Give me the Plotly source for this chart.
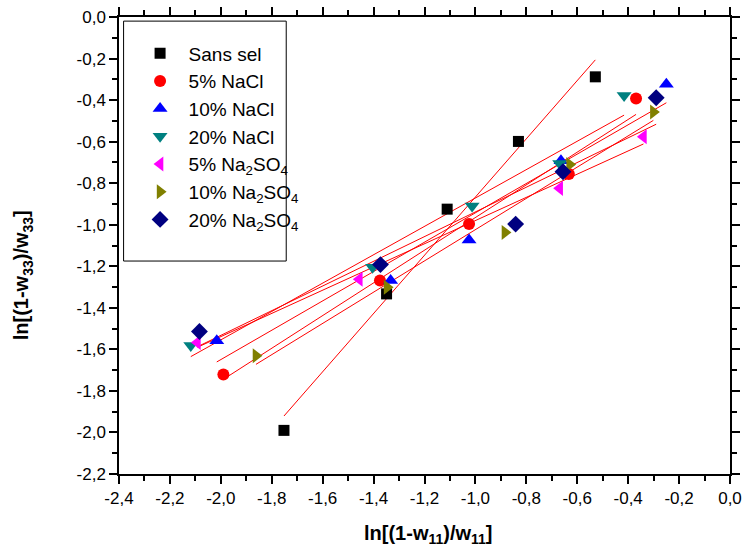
import numpy as np
import plotly.graph_objects as go

# ---- data ----
names = ["Sans sel", "5% NaCl", "10% NaCl", "20% NaCl",
         "5% Na<sub>2</sub>SO<sub>4</sub>", "10% Na<sub>2</sub>SO<sub>4</sub>",
         "20% Na<sub>2</sub>SO<sub>4</sub>"]

x_sans = [-1.752, -1.349, -1.111, -0.831, -0.529]
y_sans = [-1.990, -1.333, -0.925, -0.599, -0.288]

x_nacl5 = [-1.990, -1.375, -1.025, -0.633, -0.369]
y_nacl5 = [-1.721, -1.269, -0.997, -0.756, -0.392]

x_nacl10 = [-2.016, -1.333, -1.025, -0.664, -0.250]
y_nacl10 = [-1.558, -1.269, -1.074, -0.692, -0.324]

x_nacl20 = [-2.118, -1.404, -1.013, -0.669, -0.416]
y_nacl20 = [-1.582, -1.205, -0.910, -0.705, -0.378]

x_na2so4_5 = [-2.092, -1.456, -0.669, -0.340]
y_na2so4_5 = [-1.567, -1.262, -0.825, -0.577]

x_na2so4_10 = [-1.862, -1.347, -0.884, -0.630, -0.301]
y_na2so4_10 = [-1.631, -1.301, -1.037, -0.710, -0.457]

x_na2so4_20 = [-2.084, -1.373, -0.842, -0.656, -0.290]
y_na2so4_20 = [-1.514, -1.192, -0.997, -0.745, -0.389]

xs = [x_sans, x_nacl5, x_nacl10, x_nacl20, x_na2so4_5, x_na2so4_10, x_na2so4_20]
ys = [y_sans, y_nacl5, y_nacl10, y_nacl20, y_na2so4_5, y_na2so4_10, y_na2so4_20]

# tick values and labels (comma decimals, plain hyphen as in the reference)
x_tickvals = [-2.4, -2.2, -2.0, -1.8, -1.6, -1.4, -1.2, -1.0, -0.8, -0.6, -0.4, -0.2, 0.0]
x_ticktext = ["-2,4", "-2,2", "-2,0", "-1,8", "-1,6", "-1,4", "-1,2", "-1,0",
              "-0,8", "-0,6", "-0,4", "-0,2", "0,0"]
y_tickvals = [-2.2, -2.0, -1.8, -1.6, -1.4, -1.2, -1.0, -0.8, -0.6, -0.4, -0.2, 0.0]
y_ticktext = ["-2,2", "-2,0", "-1,8", "-1,6", "-1,4", "-1,2", "-1,0",
              "-0,8", "-0,6", "-0,4", "-0,2", "0,0"]

x_title = "<b>ln[(1-w<sub>11</sub>)/w<sub>11</sub>]</b>"
y_title = "<b>ln[(1-w<sub>33</sub>)/w<sub>33</sub>]</b>"

colors = ["#000000", "#FF0000", "#0000FF", "#008080", "#FF00FF", "#808000", "#000080"]
symbols = ["square", "circle", "triangle-up", "triangle-down", "triangle-left",
           "triangle-right", "diamond"]
sizes = [11, 12, 13, 13, 13, 13, 13]

FONT = "Arial, Liberation Sans, sans-serif"

fig = go.Figure()

# linear fit lines (computed from the data, drawn over each series' x-range)
for x, y in zip(xs, ys):
    xa = np.array(x)
    ya = np.array(y)
    k, b = np.polyfit(xa, ya, 1)
    xl = np.array([xa.min(), xa.max()])
    fig.add_trace(go.Scatter(x=xl, y=k * xl + b, mode="lines",
                             line=dict(color="#FF0000", width=1),
                             showlegend=False, hoverinfo="skip"))

for x, y, n, c, s, sz in zip(xs, ys, names, colors, symbols, sizes):
    fig.add_trace(go.Scatter(x=x, y=y, mode="markers", name=n,
                             marker=dict(color=c, symbol=s, size=sz,
                                         line=dict(width=0))))

axis_common = dict(
    showline=True, linecolor="black", linewidth=1.5, mirror="allticks",
    ticks="outside", ticklen=8, tickwidth=1.5, tickcolor="black",
    showgrid=False, zeroline=False, tickmode="array",
    automargin=False,
    tickfont=dict(family=FONT, size=17, color="black"),
    minor=dict(ticks="outside", ticklen=5, tickwidth=1.5, tickcolor="black",
               tickmode="linear", dtick=0.1, showgrid=False),
)

fig.update_layout(
    width=744, height=551,
    margin=dict(l=119, r=14, t=17, b=77),
    paper_bgcolor="white", plot_bgcolor="white",
    font=dict(family=FONT, color="black"),
    xaxis=dict(range=[-2.4, 0.0], tickvals=x_tickvals, ticktext=x_ticktext,
               **axis_common),
    yaxis=dict(range=[-2.2, 0.0], tickvals=y_tickvals, ticktext=y_ticktext,
               **axis_common),
    legend=dict(x=0.0075, y=0.962, xanchor="left", yanchor="top",
                borderwidth=0, bgcolor="rgba(0,0,0,0)",
                indentation=8, itemwidth=47,
                font=dict(family=FONT, size=19),
                tracegroupgap=0),
    shapes=[dict(type="rect", xref="paper", yref="paper",
                 x0=0.0075, x1=0.2737, y0=0.466, y1=0.991,
                 line=dict(color="black", width=1), fillcolor="white",
                 layer="below")],
    annotations=[
        dict(text=x_title, xref="paper", yref="paper", x=0.506, y=-0.1327,
             xanchor="center", yanchor="middle", showarrow=False,
             font=dict(family=FONT, size=20, color="black")),
        dict(text=y_title, xref="paper", yref="paper", x=-0.1566, y=0.4355,
             xanchor="center", yanchor="middle", showarrow=False, textangle=-90,
             font=dict(family=FONT, size=20, color="black")),
    ],
)

fig.write_html("out.html",
               config={"displayModeBar": False},
               post_script="document.body.style.margin='0';"
                           "document.body.style.overflow='hidden';")
